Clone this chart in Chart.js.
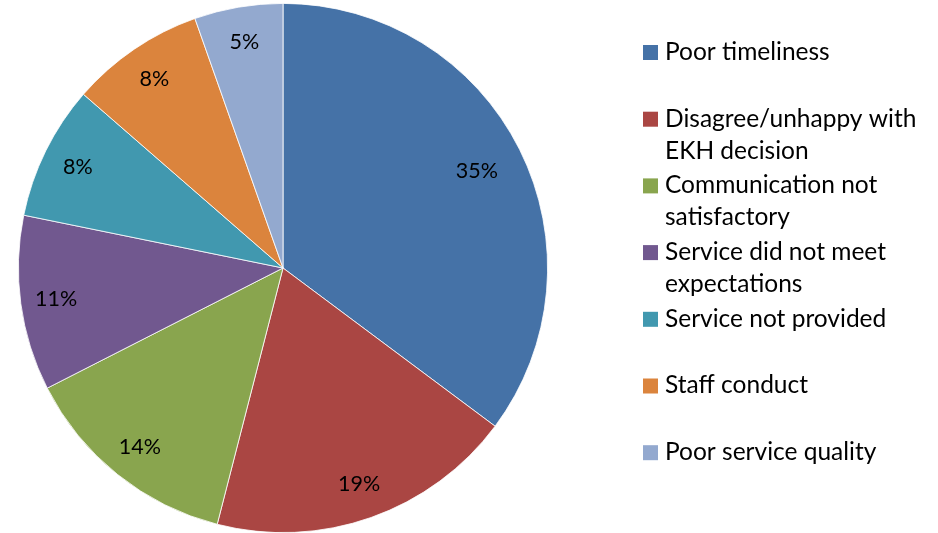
<!DOCTYPE html>
<html>
<head>
<meta charset="utf-8">
<script src="https://cdn.jsdelivr.net/npm/chart.js@4"></script>
<style>
  html, body { margin: 0; padding: 0; background: #fff; }
  #wrap { width: 938px; height: 533px; position: relative; }
</style>
</head>
<body>
<div id="wrap"><canvas id="grafico"></canvas></div>
<script>
const categorias = [
    ['Poor timeliness'],
    ['Disagree/unhappy with', 'EKH decision'],
    ['Communication not', 'satisfactory'],
    ['Service did not meet', 'expectations'],
    ['Service not provided'],
    ['Staff conduct'],
    ['Poor service quality']
];
const valores = [35.2, 18.8, 13.5, 10.7, 8.2, 8.2, 5.4];
const etiquetasPct = ['35%', '19%', '14%', '11%', '8%', '8%', '5%'];
const colores = ['#4572A7', '#AA4643', '#89A54E', '#71588F', '#4198AF', '#DB843D', '#93A9CF'];

const fuente = 'Lato, "Open Sans", sans-serif';

// etiquetas dentro de cada porcion
const etiquetas = {
    id: 'etiquetas',
    afterDatasetsDraw(chart) {
        const ctx = chart.ctx;
        const meta = chart.getDatasetMeta(0);
        ctx.save();
        ctx.fillStyle = '#000';
        ctx.font = '21.5px ' + fuente;
        ctx.textAlign = 'center';
        ctx.textBaseline = 'middle';
        meta.data.forEach((arc, i) => {
            const p = arc.getProps(['x', 'y', 'startAngle', 'endAngle', 'outerRadius'], true);
            const a = (p.startAngle + p.endAngle) / 2;
            const r = p.outerRadius * (i === 0 ? 0.82 : 0.865);
            ctx.fillText(etiquetasPct[i], p.x + Math.cos(a) * r, p.y + Math.sin(a) * r);
        });
        ctx.restore();
    }
};

// leyenda a la derecha, como en Excel
const leyenda = {
    id: 'leyenda',
    afterDraw(chart) {
        const ctx = chart.ctx;
        ctx.save();
        ctx.font = '24.5px ' + fuente;
        ctx.textBaseline = 'middle';
        ctx.textAlign = 'left';
        categorias.forEach((lineas, i) => {
            const y = 52 + i * 66.7;
            ctx.fillStyle = colores[i];
            ctx.fillRect(643, y - 7, 15, 15);
            ctx.fillStyle = '#000';
            lineas.forEach((t, j) => ctx.fillText(t, 665, y + j * 32));
        });
        ctx.restore();
    }
};

new Chart(document.getElementById('grafico').getContext('2d'), {
    type: 'pie',
    data: {
        labels: categorias.map(c => c.join(' ')),
        datasets: [{
            data: valores,
            backgroundColor: colores,
            borderColor: '#ffffff',
            borderWidth: 0.8
        }]
    },
    options: {
        responsive: true,
        maintainAspectRatio: false,
        animation: false,
        layout: { padding: { left: 18, right: 390, top: 3, bottom: 0 } },
        plugins: {
            legend: { display: false },
            tooltip: { enabled: false }
        }
    },
    plugins: [etiquetas, leyenda]
});
</script>
</body>
</html>
